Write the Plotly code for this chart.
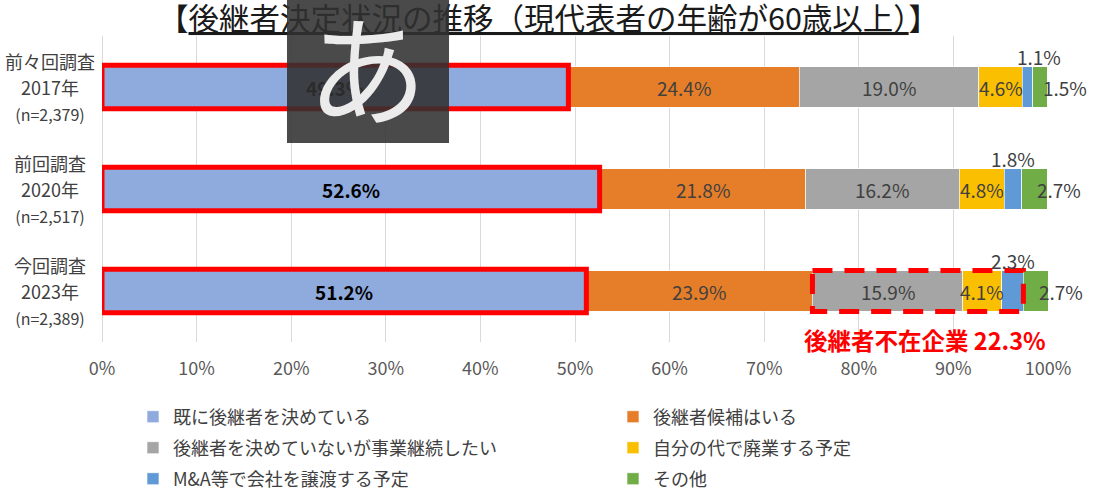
import plotly.graph_objects as go

# ---------------- data ----------------
cat_line1 = ["前々回調査", "前回調査", "今回調査"]
cat_year = ["2017年", "2020年", "2023年"]
cat_n = ["(n=2,379)", "(n=2,517)", "(n=2,389)"]

series_names = [
    "既に後継者を決めている",
    "後継者候補はいる",
    "後継者を決めていないが事業継続したい",
    "自分の代で廃業する予定",
    "M&A等で会社を譲渡する予定",
    "その他",
]
decided = [49.3, 52.6, 51.2]
candidate = [24.4, 21.8, 23.9]
undecided_continue = [19.0, 16.2, 15.9]
close_down = [4.6, 4.8, 4.1]
ma_transfer = [1.1, 1.8, 2.3]
other = [1.5, 2.7, 2.7]
series_values = [decided, candidate, undecided_continue, close_down, ma_transfer, other]

x_ticks = [0, 10, 20, 30, 40, 50, 60, 70, 80, 90, 100]
title_text = "後継者決定状況の推移（現代表者の年齢が60歳以上）"
absent_label = "後継者不在企業"

colors = ["#8FAADC", "#E67E29", "#A5A5A5", "#FABF00", "#5F9AD6", "#70AD47"]

# ---------------- layout geometry ----------------
W, H = 1097, 492
ML, MR, MT, MB = 102, 49, 36, 150
PW, PH = W - ML - MR, H - MT - MB
FONT = "Noto Sans CJK JP"


def px2x(px):
    return (px - ML) / PW


def py2y(py):
    return (H - MB - py) / PH


ys = list(range(len(cat_year)))
BAR_W = 0.4

fig = go.Figure()
legend_ids = ["legend", "legend2", "legend3", "legend4", "legend5", "legend6"]
for k, (name, vals) in enumerate(zip(series_names, series_values)):
    fig.add_trace(go.Bar(
        y=ys, x=vals, name=name, orientation="h", width=BAR_W,
        marker=dict(color=colors[k], line=dict(color="rgba(255,255,255,0.8)", width=0.8)),
        legend=legend_ids[k], hoverinfo="skip",
    ))

annotations = []
shapes = []

# category labels
for i in ys:
    annotations.append(dict(
        xref="paper", yref="y", x=0, y=i, xshift=-52, xanchor="center", yanchor="middle",
        text=f"<span style='font-size:18px'>{cat_line1[i]}</span><br>"
             f"<span style='font-size:18px'>{cat_year[i]}</span><br>"
             f"<span style='font-size:16px'>{cat_n[i]}</span>",
        showarrow=False, font=dict(family=FONT, size=20, color="#404040"),
    ))

# data labels
for i in ys:
    cum = 0.0
    for k, vals in enumerate(series_values):
        v = vals[i]
        c = cum + v / 2
        cum += v
        txt = f"{v:.1f}%"
        a = dict(xref="x", yref="y", x=c, y=i, showarrow=False,
                 font=dict(family=FONT, size=19, color="#404040"))
        if k == 0:
            a["text"] = f"<b>{txt}</b>"
            a["font"] = dict(family=FONT, size=19, color="#000000")
        elif k == 4:
            a["text"] = txt
            a["yshift"] = 31
            if i == 0:
                a["xshift"] = 11
        elif k == 5:
            a["text"] = txt
            a["xshift"] = 25
        else:
            a["text"] = txt
        annotations.append(a)

# solid red boxes around "already decided"
for i in ys:
    shapes.append(dict(type="rect", xref="x", yref="y", x0=0, x1=decided[i],
                       y0=i - 0.213, y1=i + 0.213, line=dict(color="#FF0000", width=5),
                       fillcolor="rgba(0,0,0,0)", layer="above"))

# dashed box: successor absent (latest survey)
last = len(ys) - 1
absent_start = decided[last] + candidate[last]
absent_total = undecided_continue[last] + close_down[last] + ma_transfer[last]
shapes.append(dict(type="rect", xref="x", yref="y", x0=absent_start, x1=absent_start + absent_total,
                   y0=last - 0.2, y1=last + 0.2,
                   line=dict(color="#FF0000", width=5, dash="20px,12px"),
                   fillcolor="rgba(0,0,0,0)", layer="above"))
annotations.append(dict(
    xref="x", yref="y", x=100, y=last, yshift=-49, xanchor="right", yanchor="middle",
    text=f"<b>{absent_label} {absent_total:.1f}%</b>", showarrow=False,
    font=dict(family=FONT, size=23.5, color="#FF0000"),
))

# title (annotation so the overlay can cover it)
annotations.insert(0, dict(
    xref="paper", yref="paper", x=px2x(548), y=py2y(17), xanchor="center", yanchor="middle",
    text=f"【<span style='text-decoration:underline'>{title_text}</span>】",
    showarrow=False, font=dict(family=FONT, size=30.5, color="#1A1A1A"),
))

# IME indicator overlay seen in the reference screenshot
annotations.append(dict(
    xref="paper", yref="paper", x=px2x(368), y=py2y(71.5), xanchor="center", yanchor="middle",
    text=" ", showarrow=False, width=162, height=143, borderpad=0, borderwidth=0,
    bgcolor="rgba(49,49,49,0.88)", font=dict(family=FONT, size=12, color="#EBEBEB"),
))
annotations.append(dict(
    xref="paper", yref="paper", x=px2x(367), y=py2y(71.5), yshift=7, xanchor="center",
    yanchor="middle", text="あ", showarrow=False,
    font=dict(family=FONT, size=120, color="#EBEBEB"),
))

legend_common = dict(orientation="h", xanchor="left", yanchor="middle",
                     itemwidth=30, bgcolor="rgba(0,0,0,0)",
                     font=dict(family=FONT, size=18, color="#404040"), traceorder="normal",
                     itemclick=False, itemdoubleclick=False)
col_x = [133, 613]
row_y = [417, 448, 479]
legend_layout = {}
for k, lid in enumerate(legend_ids):
    legend_layout[lid] = dict(legend_common, x=px2x(col_x[k % 2]), y=py2y(row_y[k // 2]))

fig.update_layout(
    width=W, height=H, autosize=False,
    margin=dict(l=ML, r=MR, t=MT, b=MB, pad=0, autoexpand=False),
    paper_bgcolor="white", plot_bgcolor="white",
    barmode="stack",
    showlegend=True,
    xaxis=dict(range=[0, 100], tickvals=x_ticks, ticktext=[f"{t}%" for t in x_ticks],
               showgrid=True, gridcolor="#D9D9D9", gridwidth=1, zeroline=True,
               zerolinecolor="#D9D9D9", zerolinewidth=1, showline=False, ticks="",
               ticklabelstandoff=14,
               tickfont=dict(family=FONT, size=18, color="#595959"), fixedrange=True),
    yaxis=dict(range=[len(ys) - 0.5, -0.5], showticklabels=False, showgrid=False,
               zeroline=False, showline=False, ticks="", fixedrange=True),
    annotations=annotations,
    shapes=shapes,
    font=dict(family=FONT),
    **legend_layout,
)

fig.write_html("out.html", config={"displayModeBar": False})
